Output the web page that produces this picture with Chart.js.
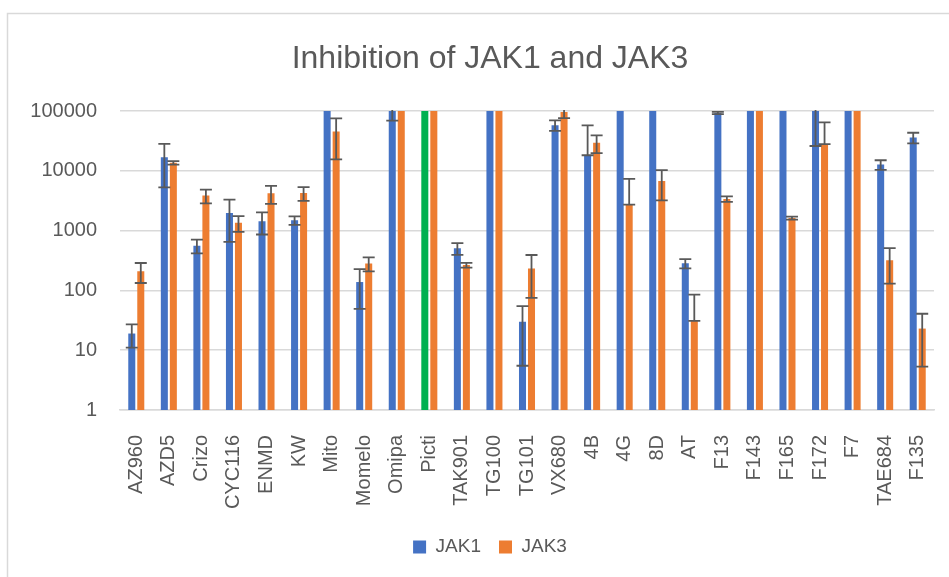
<!DOCTYPE html>
<html>
<head>
<meta charset="utf-8">
<script src="https://cdn.jsdelivr.net/npm/chart.js@4/dist/chart.umd.min.js"></script>
<style>
  html, body { margin: 0; padding: 0; background: #fff; overflow: hidden; }
  #wrap { width: 949px; height: 577px; overflow: hidden; }
</style>
</head>
<body>
<div id="wrap"><canvas id="myChart" width="980" height="577"></canvas></div>
<script>
const categories = ["AZ960", "AZD5", "Crizo", "CYC116", "ENMD", "KW", "Mito", "Momelo", "Omipa", "Picti",
  "TAK901", "TG100", "TG101", "VX680", "4B", "4G", "8D", "AT", "F13", "F143", "F165", "F172", "F7", "TAE684", "F135"];

const jak1 = [19, 16800, 560, 1970, 1440, 1490, 100000, 138, 100000, 100000,
  505, 100000, 30, 58000, 18200, 100000, 100000, 284, 93000, 100000, 100000, 100000, 100000, 12700, 36000];
const jak1Err = [8, 11500, 145, 1320, 580, 240, 0, 89, 31000, 0,
  113, 0, 24.5, 11500, 39500, 0, 0, 50, 4000, 0, 0, 74000, 0, 2300, 7300];

const jak3 = [210, 13600, 3850, 1350, 4200, 4250, 45500, 283, 100000, 100000,
  265, 100000, 233, 96000, 29500, 2715, 6750, 31, 3380, 100000, 1620, 28000, 100000, 320, 23];
const jak3Err = [77, 900, 1000, 400, 1400, 1100, 30000, 75, 0, 0,
  24, 0, 158, 20000, 9700, 4585, 3550, 54, 350, 0, 90, 36500, 0, 190, 17.7];

const yTicks = [1, 10, 100, 1000, 10000, 100000];

const BLUE = "#4472C4";
const ORANGE = "#ED7D31";
const GREEN = "#00B050";
const TEXT = "#595959";
const GRID = "#D9D9D9";

// Picti JAK1 bar is highlighted green
const jak1Colors = categories.map(c => c === "Picti" ? GREEN : BLUE);

Chart.defaults.font.family = "'Liberation Sans', Arial, sans-serif";
Chart.defaults.color = TEXT;

// frame around the whole chart, like the Excel chart border
const frame = {
  id: "frame",
  beforeDraw(chart) {
    const ctx = chart.ctx;
    ctx.save();
    ctx.fillStyle = "#fff";
    ctx.fillRect(0, 0, chart.width, chart.height);
    ctx.strokeStyle = GRID;
    ctx.lineWidth = 1.5;
    ctx.strokeRect(7.5, 13.5, 1000, 1000);
    ctx.restore();
  }
};

// symmetric error bars; lower end that falls below zero stops at the bar top
const errorBars = {
  id: "errorBars",
  afterDatasetsDraw(chart) {
    const ctx = chart.ctx;
    const area = chart.chartArea;
    const y = chart.scales.y;
    const errs = [jak1Err, jak3Err];
    ctx.save();
    ctx.beginPath();
    ctx.rect(area.left, area.top - 1, area.right - area.left, area.bottom - area.top + 2);
    ctx.clip();
    ctx.strokeStyle = "#595959";
    ctx.lineWidth = 1.8;
    chart.data.datasets.forEach((ds, i) => {
      const meta = chart.getDatasetMeta(i);
      meta.data.forEach((bar, j) => {
        const e = errs[i][j];
        if (!e) return;
        const v = ds.data[j];
        const hi = y.getPixelForValue(v + e);
        const lo = v - e > 0 ? y.getPixelForValue(v - e) : y.getPixelForValue(v);
        const cap = 6;
        ctx.beginPath();
        ctx.moveTo(bar.x, hi);
        ctx.lineTo(bar.x, lo);
        ctx.moveTo(bar.x - cap, hi);
        ctx.lineTo(bar.x + cap, hi);
        ctx.moveTo(bar.x - cap, lo);
        ctx.lineTo(bar.x + cap, lo);
        ctx.stroke();
      });
    });
    ctx.restore();
  }
};

const config = {
  type: "bar",
  data: {
    labels: categories,
    datasets: [
      { label: "JAK1", data: jak1, backgroundColor: jak1Colors, categoryPercentage: 0.553, barPercentage: 0.78 },
      { label: "JAK3", data: jak3, backgroundColor: ORANGE, categoryPercentage: 0.553, barPercentage: 0.78 }
    ]
  },
  options: {
    responsive: false,
    animation: false,
    layout: { padding: { top: 40, left: 0, right: 0, bottom: 10.5 } },
    scales: {
      x: {
        grid: { display: false },
        border: { display: true, color: GRID, width: 1.5 },
        ticks: { maxRotation: 90, minRotation: 90, padding: 17, font: { size: 20 }, color: TEXT, autoSkip: false },
        afterFit(scale) { scale.height = 109.5; }
      },
      y: {
        type: "logarithmic",
        min: 1,
        max: 100000,
        grid: { color: GRID, lineWidth: 1.5, drawTicks: false },
        border: { display: false },
        afterBuildTicks(scale) { scale.ticks = yTicks.map(v => ({ value: v })); },
        ticks: { padding: 23, font: { size: 20 }, color: TEXT, callback: v => String(v) },
        afterFit(scale) { scale.width = 120; }
      },
      // empty right margin of the plot (the chart frame runs past the window)
      yRight: {
        position: "right",
        grid: { display: false },
        border: { display: false },
        ticks: { display: false },
        afterFit(scale) { scale.width = 46; }
      }
    },
    plugins: {
      title: {
        display: true,
        text: "Inhibition of JAK1 and JAK3",
        font: { size: 32, weight: "normal" },
        color: TEXT,
        padding: { top: 0, bottom: 32.6 }
      },
      legend: {
        position: "bottom",
        labels: { boxWidth: 13, boxHeight: 13, padding: 18, font: { size: 19 }, color: TEXT }
      },
      tooltip: { enabled: false }
    }
  },
  plugins: [frame, errorBars]
};

new Chart(document.getElementById("myChart").getContext("2d"), config);
</script>
</body>
</html>
